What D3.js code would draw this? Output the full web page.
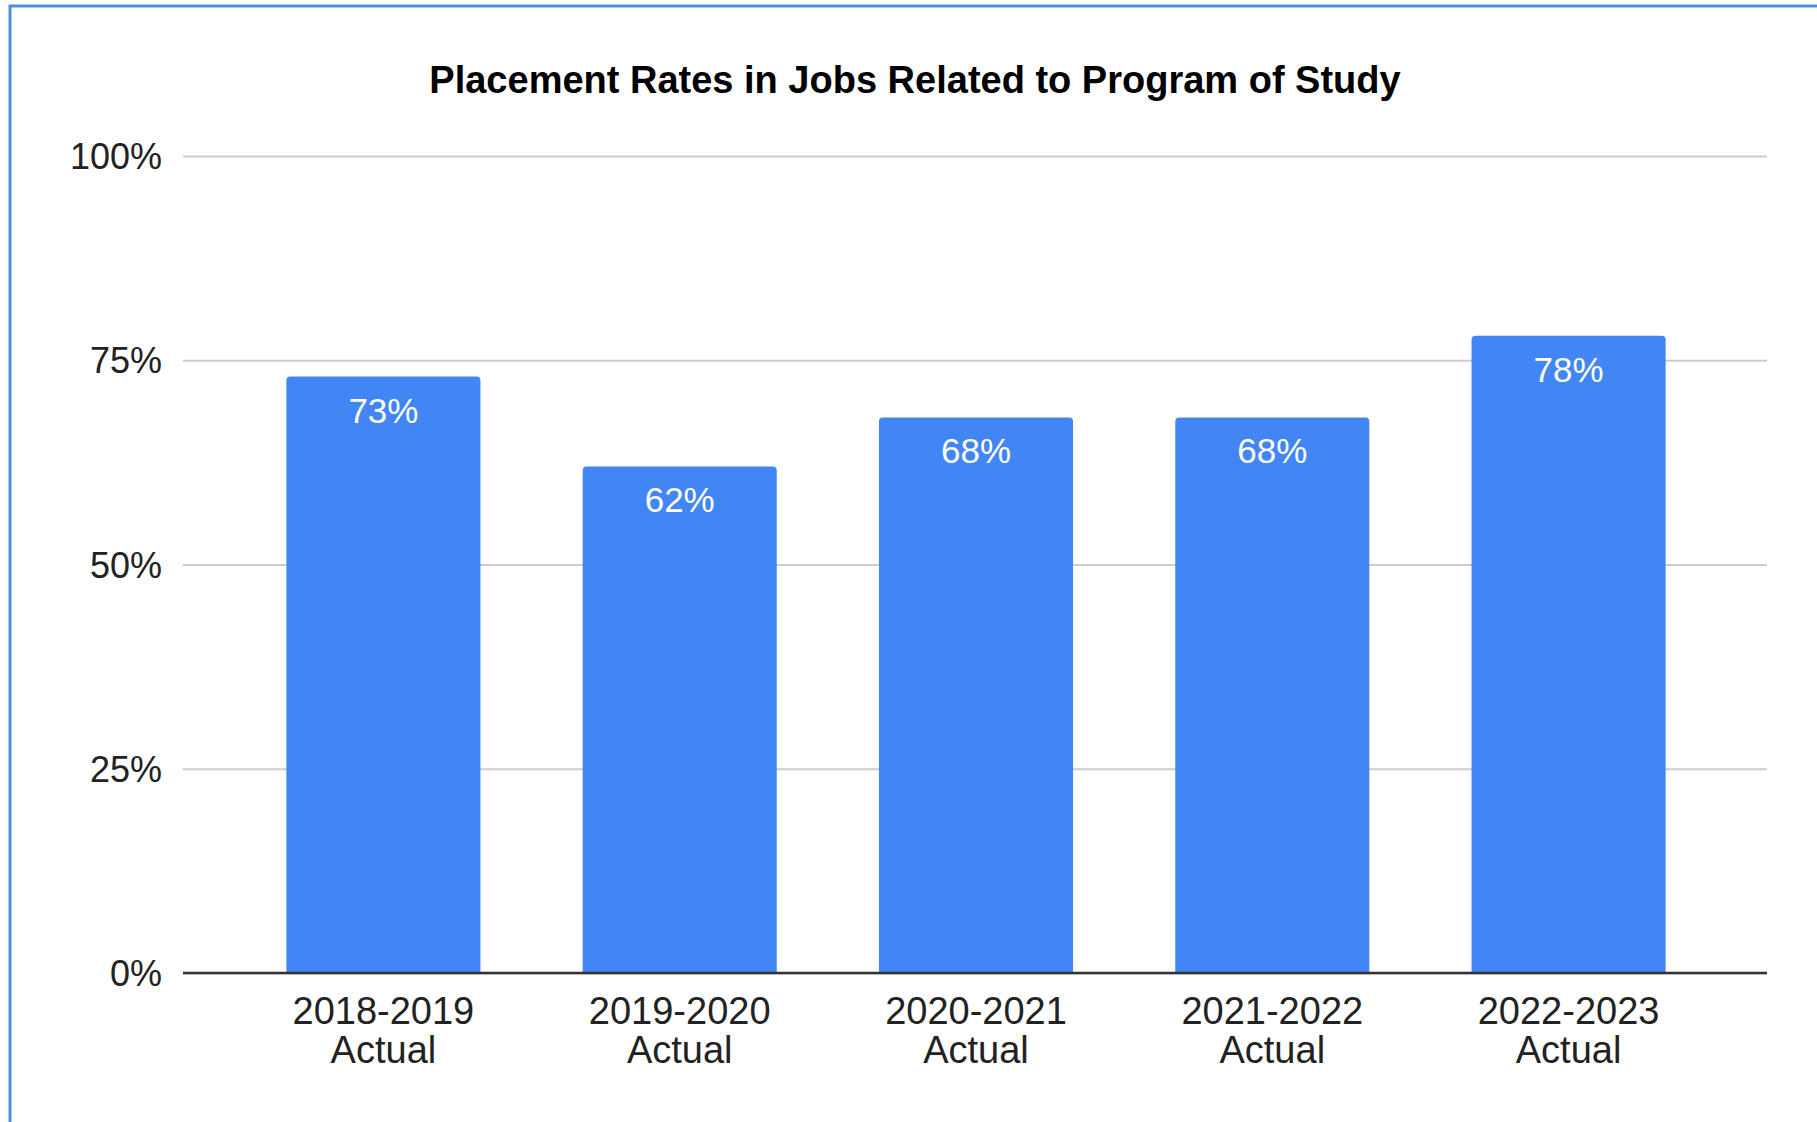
<!DOCTYPE html>
<html>
<head>
<meta charset="utf-8">
<script src="https://cdn.jsdelivr.net/npm/d3@7"></script>
<style>
  body { margin: 0; background: #fff; }
  text { font-family: Arial, "Liberation Sans", sans-serif; }
</style>
</head>
<body>
<script>
var categories = ["2018-2019", "2019-2020", "2020-2021", "2021-2022", "2022-2023"];
var subLabels = ["Actual", "Actual", "Actual", "Actual", "Actual"];
var rates = [0.73, 0.62, 0.68, 0.68, 0.78];
var yTicks = [0, 0.25, 0.5, 0.75, 1];
var title = "Placement Rates in Jobs Related to Program of Study";

var width = 1817,
    height = 1122;

var svg = d3.select("body")
    .append("svg")
    .attr("width", width)
    .attr("height", height);

// frame (only top and left edges show in the screenshot)
svg.append("line")
    .attr("x1", 9).attr("x2", width).attr("y1", 6).attr("y2", 6)
    .style("stroke", "#4a8fd9").style("stroke-width", 3);
svg.append("line")
    .attr("x1", 10).attr("x2", 10).attr("y1", 5).attr("y2", height)
    .style("stroke", "#4a8fd9").style("stroke-width", 3);

var plot = { left: 183, right: 1767, top: 156, bottom: 973 };

var x = d3.scaleBand()
    .domain(categories)
    .range([236, 1716])
    .paddingInner(0.345)
    .paddingOuter(0.17);

var y = d3.scaleLinear()
    .domain([0, 1])
    .range([plot.bottom, plot.top]);

svg.append("text")
    .attr("x", 915)
    .attr("y", 93)
    .attr("text-anchor", "middle")
    .style("font-size", "38px")
    .style("font-weight", "bold")
    .style("fill", "#000")
    .text(title);

// gridlines
var yAxis = d3.axisLeft(y)
    .tickValues(yTicks)
    .tickSize(-(plot.right - plot.left))
    .tickPadding(21)
    .tickFormat(d3.format(".0%"));

var gy = svg.append("g")
    .attr("transform", "translate(" + plot.left + ",0)")
    .call(yAxis);
gy.select(".domain").remove();
gy.selectAll(".tick line")
    .style("stroke", "#cccccc")
    .style("stroke-width", 2);
gy.selectAll(".tick text")
    .style("font-size", "36px")
    .style("fill", "#222")
    .attr("dy", "0.35em");

// bars with rounded tops
var r = 4;
function barPath(d, i) {
    var x0 = x(categories[i]), w = x.bandwidth(),
        y0 = y(d), y1 = y(0);
    return "M" + x0 + "," + y1 +
        "V" + (y0 + r) +
        "Q" + x0 + "," + y0 + " " + (x0 + r) + "," + y0 +
        "H" + (x0 + w - r) +
        "Q" + (x0 + w) + "," + y0 + " " + (x0 + w) + "," + (y0 + r) +
        "V" + y1 + "Z";
}

svg.append("g")
    .selectAll("path")
    .data(rates)
    .enter().append("path")
    .attr("d", barPath)
    .style("fill", "#4285f4");

svg.append("g")
    .selectAll("text")
    .data(rates)
    .enter().append("text")
    .attr("x", function (d, i) { return x(categories[i]) + x.bandwidth() / 2; })
    .attr("y", function (d) { return y(d) + 46; })
    .attr("text-anchor", "middle")
    .style("font-size", "35px")
    .style("fill", "#fff")
    .text(function (d) { return d3.format(".0%")(d); });

// baseline
svg.append("line")
    .attr("x1", plot.left).attr("x2", plot.right)
    .attr("y1", y(0)).attr("y2", y(0))
    .style("stroke", "#333").style("stroke-width", 2.5);

// category labels
var xl = svg.append("g")
    .selectAll("text")
    .data(categories)
    .enter().append("text")
    .attr("text-anchor", "middle")
    .style("font-size", "38px")
    .style("fill", "#222");
xl.append("tspan")
    .attr("x", function (d) { return x(d) + x.bandwidth() / 2; })
    .attr("y", 1024)
    .text(function (d) { return d; });
xl.append("tspan")
    .attr("x", function (d) { return x(d) + x.bandwidth() / 2; })
    .attr("y", 1063)
    .text(function (d, i) { return subLabels[i]; });
</script>
</body>
</html>
